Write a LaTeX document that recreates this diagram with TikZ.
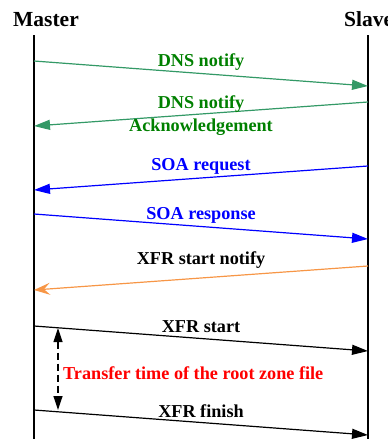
\documentclass[tikz,border=0pt]{standalone}
\usepackage{fontspec}
\setmainfont{Liberation Serif}
\usetikzlibrary{arrows.meta}
\definecolor{lgreen}{RGB}{51,153,102}
\definecolor{tgreen}{RGB}{0,128,0}
\definecolor{lorange}{RGB}{247,150,70}
\tikzset{
  lifeline/.style={line width=2pt,black},
  msg/.style={line width=1.2pt,-{Triangle[length=16pt,width=10pt]}},
  lbl/.style={font=\fontsize{18.2}{20}\selectfont\bfseries,inner sep=0pt},
  head/.style={font=\fontsize{21.5}{23}\selectfont\bfseries,inner sep=0pt},
}
\begin{document}
\begin{tikzpicture}[x=1pt,y=-1pt]
\useasboundingbox (0,0) rectangle (388,439);
% headers
\node[head,anchor=base] (master) at (46,27) {Master};
\node[head,anchor=base west] (slave) at (344,27) {Slave};
% lifelines
\coordinate (mtop) at (34,35);
\coordinate (mbot) at (34,439);
\coordinate (stop) at (368,35);
\coordinate (sbot) at (368,439);
\draw[lifeline] (mtop) -- (mbot);
\draw[lifeline] (stop) -- (sbot);
% endpoints
\coordinate (m1) at (34,61);  \coordinate (s1) at (368,86);
\coordinate (s2) at (368,102); \coordinate (m2) at (34,126);
\coordinate (s3) at (368,166); \coordinate (m3) at (34,190);
\coordinate (m4) at (34,214); \coordinate (s4) at (368,239);
\coordinate (s5) at (368,266); \coordinate (m5) at (34,290);
\coordinate (m6) at (34,326); \coordinate (s6) at (368,351);
\coordinate (m7) at (34,410); \coordinate (s7) at (368,435);
\draw[msg,lgreen] (m1) -- (s1);
\draw[msg,lgreen] (s2) -- (m2);
\draw[msg,blue] (s3) -- (m3);
\draw[msg,blue] (m4) -- (s4);
\draw[line width=1.2pt,lorange,-{Stealth[length=16pt,width=12pt,inset=6pt]}] (s5) -- (m5);
\draw[msg,black] (m6) -- (s6);
\draw[msg,black] (m7) -- (s7);
% labels
\node[lbl,text=tgreen] (l1) at (201,62) {DNS notify};
\node[lbl,text=tgreen] (l2a) at (201,104) {DNS notify};
\node[lbl,text=tgreen] (l2b) at (201,127) {Acknowledgement};
\node[lbl,text=blue] (l3) at (201,166) {SOA request};
\node[lbl,text=blue] (l4) at (201,215) {SOA response};
\node[lbl] (l5) at (201,260) {XFR start notify};
\node[lbl] (l6) at (201,327) {XFR start};
\node[lbl] (l7) at (201,411) {XFR finish};
% transfer time
\coordinate (tt) at (58,328);
\coordinate (tb) at (58,410);
\draw[line width=1.2pt,dashed,dash pattern=on 7pt off 4pt,{Triangle[length=14pt,width=9pt]}-{Triangle[length=14pt,width=9pt]}] (tt) -- (tb);
\node[lbl,text=red,anchor=west] (tr) at (63,373) {Transfer time of the root zone file};
\end{tikzpicture}
\end{document}
